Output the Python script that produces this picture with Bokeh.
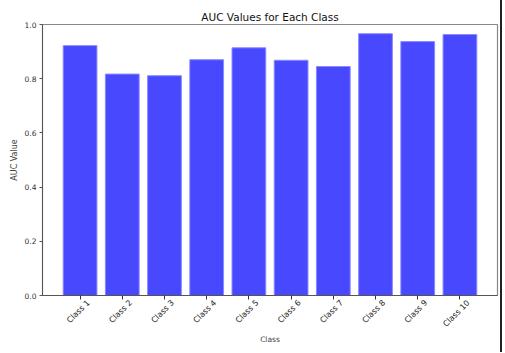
import math
from bokeh.plotting import figure
from bokeh.models import FixedTicker, Range1d, LinearAxis
from bokeh.embed import file_html
from bokeh.resources import INLINE

classes = ["Class 1", "Class 2", "Class 3", "Class 4", "Class 5",
           "Class 6", "Class 7", "Class 8", "Class 9", "Class 10"]
auc_values = [0.922, 0.817, 0.811, 0.870, 0.914, 0.868, 0.845, 0.966, 0.937, 0.963]
y_ticks = [0.0, 0.2, 0.4, 0.6, 0.8, 1.0]
y_tick_labels = ["0.0", "0.2", "0.4", "0.6", "0.8", "1.0"]

xs = list(range(len(classes)))
label_shift = 0.2
label_pos = [i + label_shift for i in xs]

FONT = "DejaVu Sans"

p = figure(width=502, height=352, output_backend="svg", toolbar_location=None,
           x_range=Range1d(-0.89, len(classes) - 1 + 0.89), y_range=Range1d(0, 1.0),
           min_border_left=42, min_border_right=5, min_border_top=24, min_border_bottom=57)
p.styles = {"border-right": "2px solid #222222"}

p.vbar(x=xs, top=auc_values, width=0.8, fill_color="#4848ff",
       line_color="#8a8aff", line_width=1)

p.title.text = "AUC Values for Each Class"
p.title.align = "center"
p.title.text_font = FONT
p.title.text_font_style = "normal"
p.title.text_font_size = "10.5px"
p.title.text_color = "#111111"
p.title.standoff = 3

p.xgrid.visible = False
p.ygrid.visible = False
p.outline_line_color = "#888888"
p.outline_line_width = 1.2

xa = p.xaxis[0]
xa.ticker = FixedTicker(ticks=xs)
xa.major_label_overrides = {i: "" for i in xs}
xa.major_label_standoff = 0
xa.minor_tick_line_color = None
xa.major_tick_in = 0
xa.major_tick_out = 4
xa.axis_line_color = "#555555"
xa.major_tick_line_color = "#333333"

xa2 = LinearAxis(ticker=FixedTicker(ticks=label_pos),
                 major_label_overrides={pos: c for pos, c in zip(label_pos, classes)})
xa2.axis_line_color = None
xa2.major_tick_line_color = None
xa2.minor_tick_line_color = None
xa2.major_tick_in = 0
xa2.major_tick_out = 0
xa2.major_label_standoff = 2
xa2.major_label_orientation = math.pi / 4
xa2.major_label_text_font = FONT
xa2.major_label_text_font_size = "8px"
xa2.major_label_text_color = "#222222"
xa2.axis_label = "Class"
xa2.axis_label_text_font = FONT
xa2.axis_label_text_font_size = "7.5px"
xa2.axis_label_text_font_style = "normal"
xa2.axis_label_standoff = 0
p.add_layout(xa2, "below")

ya = p.yaxis[0]
ya.ticker = FixedTicker(ticks=y_ticks)
ya.major_label_overrides = {t: l for t, l in zip(y_ticks, y_tick_labels)}
ya.major_label_text_font = FONT
ya.major_label_text_font_size = "7.5px"
ya.major_label_text_color = "#333333"
ya.major_label_standoff = 3
ya.minor_tick_line_color = None
ya.major_tick_in = 0
ya.major_tick_out = 3
ya.axis_line_color = "#555555"
ya.major_tick_line_color = "#555555"
ya.axis_label = "AUC Value"
ya.axis_label_text_font = FONT
ya.axis_label_text_font_size = "8px"
ya.axis_label_text_font_style = "normal"
ya.axis_label_standoff = 3

open("out.html", "w").write(file_html(p, INLINE))
